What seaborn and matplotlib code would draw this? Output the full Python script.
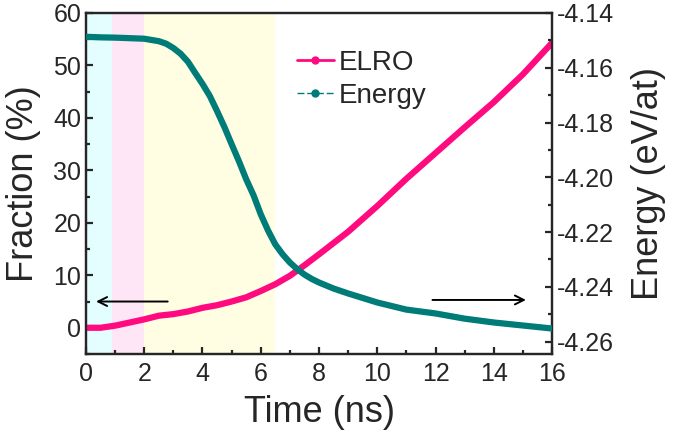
import numpy as np
import pandas as pd
import seaborn as sns
from matplotlib import pyplot as plt
from matplotlib.lines import Line2D
from matplotlib.ticker import MultipleLocator

# values
time_elro = [0, 0.5, 1, 1.5, 2, 2.5, 3, 3.5, 4, 4.5, 5, 5.5, 6, 6.5, 7, 7.5, 8,
             9, 10, 11, 12, 13, 14, 15, 16]
elro_frac = [0.0, 0.0, 0.4, 1.0, 1.6, 2.3, 2.6, 3.1, 3.8, 4.3, 5.0, 5.8, 7.0, 8.3, 9.9, 11.9, 14.0,
             18.3, 23.2, 28.4, 33.3, 38.2, 43.0, 48.3, 54.3]

time_energy = [0, 0.5, 1, 1.5, 2, 2.5, 2.75, 3, 3.25, 3.5, 3.75, 4, 4.25, 4.5, 4.75, 5,
               5.25, 5.5, 5.75, 6, 6.25, 6.5, 6.75, 7, 7.25, 7.5, 7.75, 8, 8.5, 9, 10, 11,
               12, 13, 14, 15, 16]
energy = [-4.1487, -4.1489, -4.1490, -4.1492, -4.1494, -4.1503, -4.1512, -4.1528, -4.1549,
          -4.1578, -4.1619, -4.1659, -4.1703, -4.1758, -4.1816, -4.1879, -4.1941, -4.2007,
          -4.2065, -4.2135, -4.2194, -4.2245, -4.2281, -4.2311, -4.2335, -4.2355, -4.2371,
          -4.2384, -4.2406, -4.2424, -4.2457, -4.2483, -4.2497, -4.2516, -4.2530, -4.2541,
          -4.2552]

stage_edges = [0, 0.9, 2.0, 6.5]
stage_colors = ['#e4feff', '#ffe6f7', '#fffee2']

pink = '#ff0a7f'
teal = '#007c78'

df_elro = pd.DataFrame({'time': time_elro, 'elro': elro_frac})
df_en = pd.DataFrame({'time': time_energy, 'energy': energy})

sns.set_style('ticks')
plt.rcParams['font.family'] = ['Liberation Sans', 'DejaVu Sans']
plt.rcParams['xtick.direction'] = 'in'
plt.rcParams['ytick.direction'] = 'in'

fig, ax = plt.subplots(figsize=(6.75, 4.46), dpi=100)
fig.subplots_adjust(left=0.1274, right=0.8178, top=0.9709, bottom=0.2063)

for i in range(len(stage_colors)):
    ax.axvspan(stage_edges[i], stage_edges[i + 1], color=stage_colors[i], lw=0, zorder=0)

sns.lineplot(data=df_elro, x='time', y='elro', ax=ax, color=pink, lw=4.5, zorder=3)
ax2 = ax.twinx()
sns.lineplot(data=df_en, x='time', y='energy', ax=ax2, color=teal, lw=4.5, zorder=3)

ax.set_xlim(0, 16)
ax.set_ylim(-5, 60)
ax2.set_ylim(-4.2645, -4.14)

ax.xaxis.set_major_locator(MultipleLocator(2))
ax.xaxis.set_minor_locator(MultipleLocator(1))
ax.yaxis.set_major_locator(MultipleLocator(10))
ax.yaxis.set_minor_locator(MultipleLocator(5))
ax2.yaxis.set_major_locator(MultipleLocator(0.02))
ax2.yaxis.set_minor_locator(MultipleLocator(0.01))
ax2.yaxis.set_major_formatter(plt.FuncFormatter(lambda v, p: '%.2f' % v))

for a in (ax, ax2):
    for s in a.spines.values():
        s.set_linewidth(1.6)
        s.set_visible(True)
    a.tick_params(which='major', length=5, width=1.6, labelsize=18)
    a.tick_params(which='minor', length=3, width=1.6)
ax.tick_params(axis='x', pad=6)
ax.tick_params(top=False, which='both')

ax.set_xlabel('Time (ns)', fontsize=26, labelpad=6)
ax.set_ylabel('Fraction (%)', fontsize=26, labelpad=9)
ax2.set_ylabel('Energy (eV/at)', fontsize=26, labelpad=12)

# arrows pointing to the relevant axis
ax.annotate('', xy=(0.25, 5), xytext=(2.9, 5),
            arrowprops=dict(arrowstyle='->', color='black', lw=1.4, mutation_scale=16))
ax.annotate('', xy=(15.2, 5.3), xytext=(11.8, 5.3),
            arrowprops=dict(arrowstyle='->', color='black', lw=1.4, mutation_scale=16))

handles = [Line2D([], [], color=pink, lw=2, marker='o', ms=5),
           Line2D([], [], color=teal, lw=1, ls=(0, (5, 2)), marker='o', ms=5)]
ax2.legend(handles, ['ELRO', 'Energy'], loc='upper left', bbox_to_anchor=(0.40, 0.965),
           frameon=False, fontsize=20, handlelength=1.3, handletextpad=0.2, labelspacing=0.25)

fig.savefig('out.png', dpi=100)
